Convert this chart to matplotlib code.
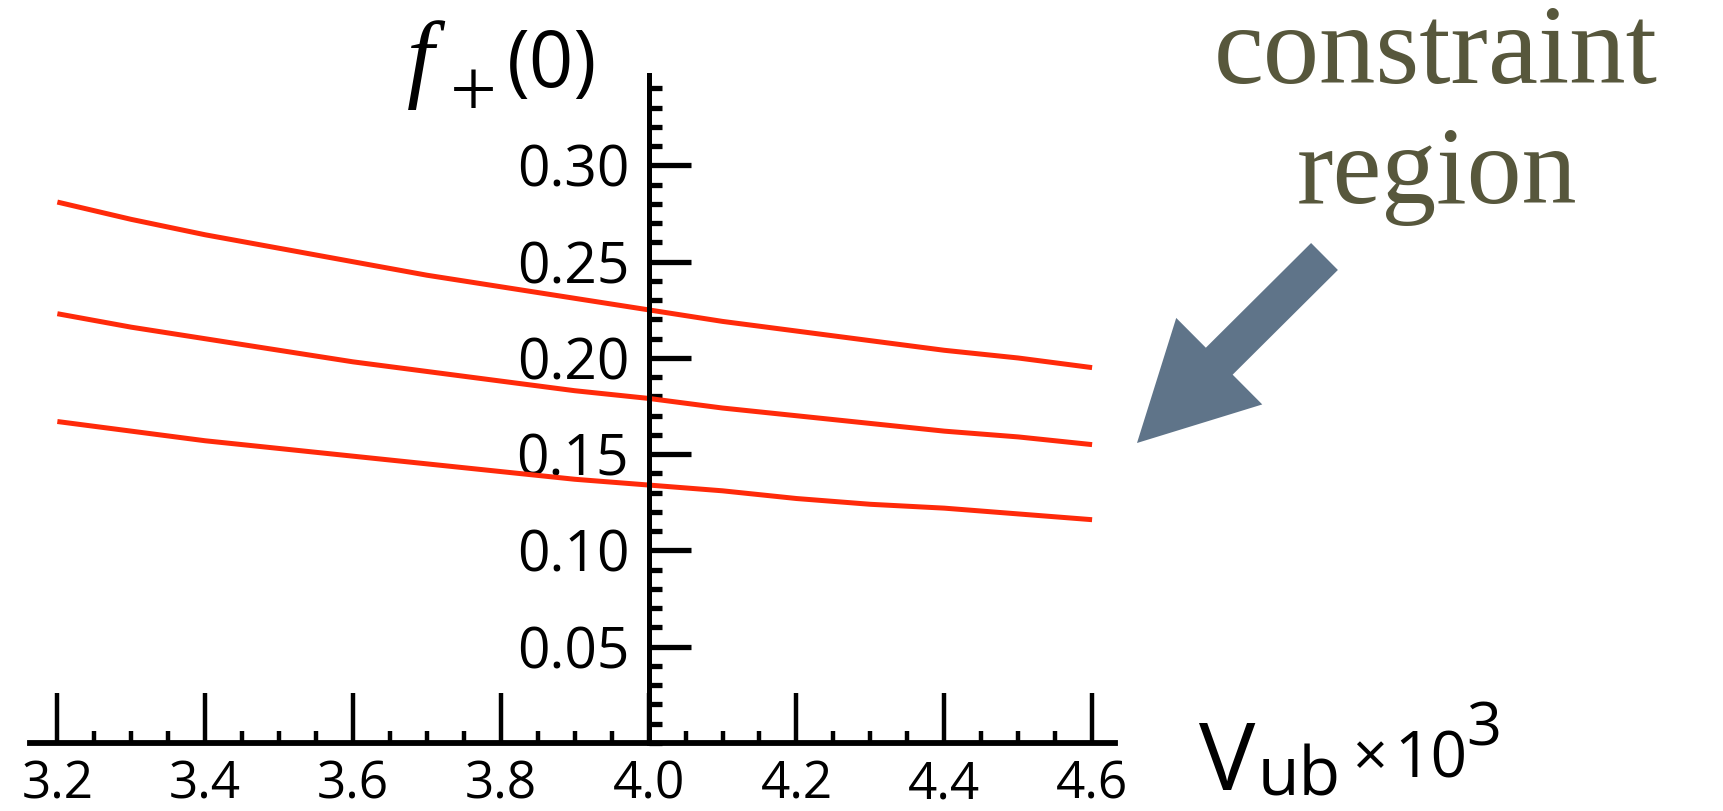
import matplotlib
matplotlib.use('agg')
import matplotlib.pyplot as plt
import matplotlib.ticker as tick
import matplotlib.transforms as mtransforms
from matplotlib.patches import FancyArrow

# values, f+(0) vs Vub x 10^3
vub = [3.2, 3.3, 3.4, 3.5, 3.6, 3.7, 3.8, 3.9, 4.0, 4.1, 4.2, 4.3, 4.4, 4.5, 4.6]
f_upper = [0.281, 0.272, 0.264, 0.257, 0.250, 0.243, 0.237, 0.231, 0.225,
           0.219, 0.214, 0.209, 0.204, 0.200, 0.195]
f_mid = [0.223, 0.216, 0.210, 0.204, 0.198, 0.193, 0.188, 0.183, 0.179,
         0.174, 0.170, 0.166, 0.162, 0.159, 0.155]
f_lower = [0.167, 0.162, 0.157, 0.153, 0.149, 0.145, 0.141, 0.137, 0.134,
           0.131, 0.127, 0.124, 0.122, 0.119, 0.116]
x_ticks = [3.2, 3.4, 3.6, 3.8, 4.0, 4.2, 4.4, 4.6]
y_ticks = [0.05, 0.10, 0.15, 0.20, 0.25, 0.30]

W, H = 1723, 811
sans = 'Open Sans'
serif = 'Liberation Serif'
red = '#ff2a0a'

fig = plt.figure(figsize=(W / 100, H / 100), dpi=100)
ax = fig.add_axes([30 / W, 68 / H, (1115 - 30) / W, (736 - 68) / H])

for f in (f_upper, f_mid, f_lower):
    ax.plot(vub, f, color=red, lw=3.6, solid_capstyle='butt')

ax.set_xlim(3.163, 4.631)
ax.set_ylim(0, 0.347)

ax.spines['right'].set_visible(False)
ax.spines['top'].set_visible(False)
ax.spines['left'].set_position(('data', 4.0))
ax.spines['bottom'].set_position(('data', 0.0))
ax.spines['left'].set_linewidth(3.6)
ax.spines['bottom'].set_linewidth(4.2)

ax.set_xticks(x_ticks)
ax.set_xticklabels(['%.1f' % v for v in x_ticks])
ax.set_yticks(y_ticks)
ax.set_yticklabels(['%.2f' % v for v in y_ticks])
ax.xaxis.set_minor_locator(tick.MultipleLocator(0.05))
ax.yaxis.set_minor_locator(tick.MultipleLocator(0.01))

ax.tick_params(axis='x', which='major', direction='in', length=36, width=3.2,
               pad=12, labelsize=37)
ax.tick_params(axis='x', which='minor', direction='in', length=9, width=3.2)
ax.tick_params(axis='y', which='major', direction='in', length=30, width=3.8,
               pad=14, labelsize=41)
ax.tick_params(axis='y', which='minor', direction='in', length=9, width=3.8)
for lab in ax.get_xticklabels() + ax.get_yticklabels():
    lab.set_fontfamily(sans)

# axis labels, placed like the original (pixel positions from top-left)
def put(x, y, s, **kw):
    fig.text(x / W, 1 - y / H, s, **kw)

put(407, 89, 'f', fontsize=70, family=serif, style='italic', va='baseline')
put(473, 116, '+', fontsize=60, family=serif, ha='center', va='baseline')
put(507, 87, '(0)', fontsize=56, family=sans, va='baseline')

put(1199, 790, 'V', fontsize=68, family=sans, va='baseline')
put(1258, 796, 'ub', fontsize=49, family=sans, va='baseline')
put(1352, 776, '\u00d7', fontsize=44, family=sans, va='baseline')
put(1394, 778, '10', fontsize=46, family=sans, va='baseline')
put(1466, 745, '3', fontsize=44, family=sans, va='baseline')

olive = '#57573c'
put(1436, 83, 'constraint', fontsize=81, family=serif,
    color=olive, ha='center', va='baseline')
put(1437, 203, 'region', fontsize=79, family=serif,
    color=olive, ha='center', va='baseline')

arrow = FancyArrow(1324.5, H - 256.5, -187.5, -186.5, width=38, head_width=122,
                   head_length=116, length_includes_head=True,
                   color='#5f7489', lw=0,
                   transform=mtransforms.IdentityTransform())
fig.add_artist(arrow)

fig.savefig('out.png', dpi=100)
